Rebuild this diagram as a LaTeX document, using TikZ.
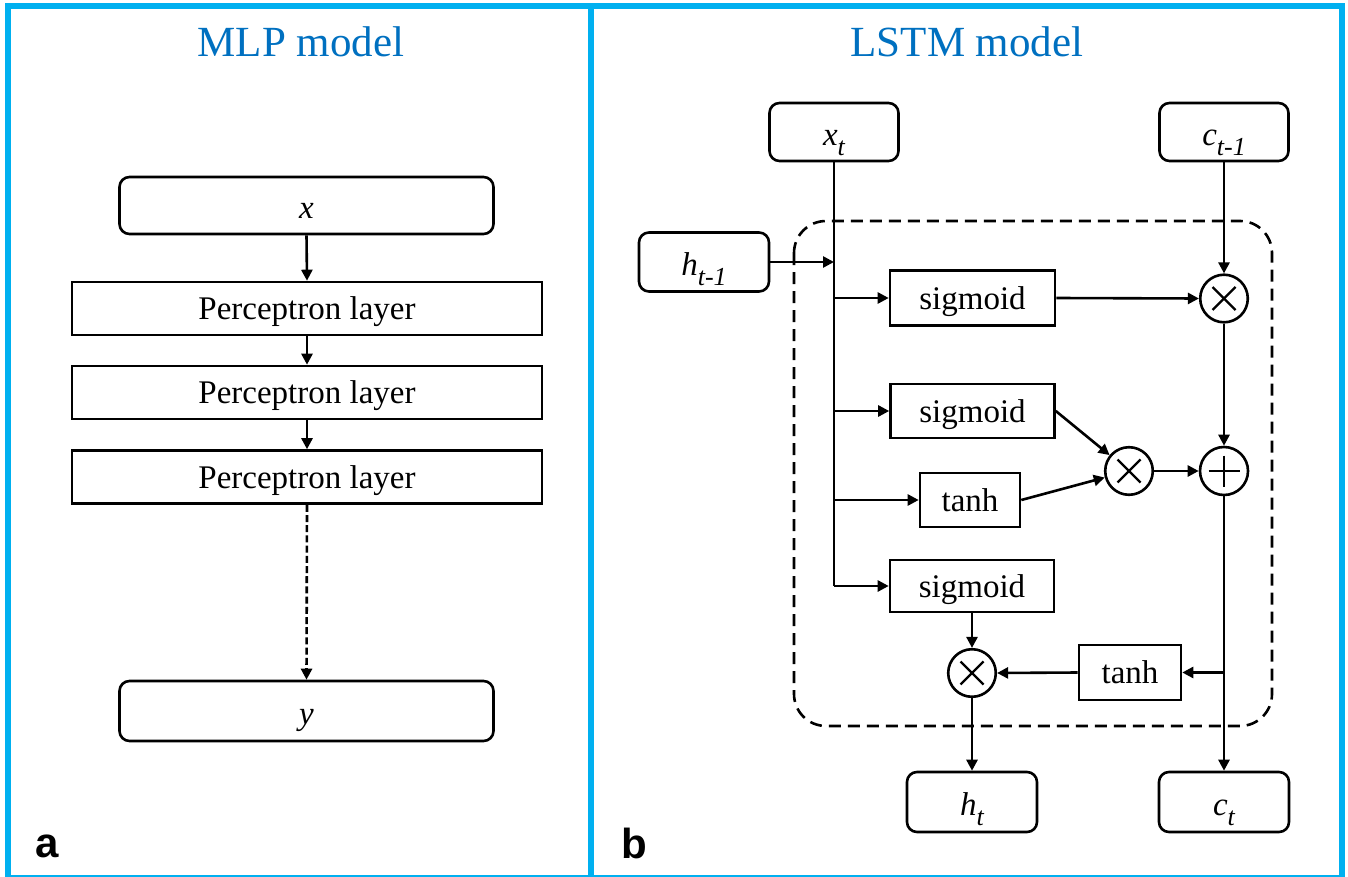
\documentclass[tikz,border=0pt]{standalone}
\usepackage{fontspec}
\setmainfont{Liberation Serif}
\setsansfont{Liberation Sans}
\usetikzlibrary{arrows.meta}
\definecolor{framecyan}{HTML}{00B0F0}
\definecolor{titleblue}{HTML}{0070C0}
% italic variable with an italic, lowered index
\newcommand\vsub[2]{\textit{#1}\raisebox{-0.3em}{\fontsize{13}{13}\selectfont\itshape #2}}

\begin{document}
\begin{tikzpicture}[x=0.5pt,y=-0.5pt,
  boxfont/.style={font=\fontsize{16.5}{18}\selectfont},
  rbox/.style={draw, line width=1.3pt, rounded corners=5pt, inner sep=0pt, boxfont,
               text height=13.5pt, text depth=0pt},
  sbox/.style={draw, line width=1.3pt, inner sep=0pt, boxfont,
               text height=11.5pt, text depth=0.5pt},
  opnode/.style={draw, circle, line width=1.3pt, minimum size=23.8pt, inner sep=0pt},
  conn/.style={line width=1.3pt, -{Triangle[length=5.5pt,width=5.5pt]}},
  plainline/.style={line width=1.3pt},
  symline/.style={line width=1.2pt},
  title/.style={anchor=base, text=titleblue, font=\fontsize{21.5}{24}\selectfont},
  panellabel/.style={anchor=base, font=\sffamily\bfseries\fontsize{21}{24}\selectfont},
  frame/.style={draw=framecyan, line width=3pt},
  groupbox/.style={line width=1.3pt, dash pattern=on 6pt off 3.5pt, rounded corners=16pt}
]
\useasboundingbox (0,0) rectangle (1348,877);

% panel frames
\draw[frame] (7.5,6.3) rectangle (1341.5,878);
\draw[frame] (591,6.3) -- (591,878);

% titles and panel letters
\node[title] (tmlp) at (301,57) {MLP model};
\node[title] (tlstm) at (967,57) {LSTM model};
\node[panellabel] (la) at (47,857) {a};
\node[panellabel] (lb) at (634,858) {b};

% ---------------- MLP ----------------
\node[rbox, minimum width=187pt, minimum height=28.5pt] (mx) at (306.5,205.5) {\textit{x}};
\node[sbox, minimum width=235pt, minimum height=26.5pt] (p1) at (307,308.5) {Perceptron layer};
\node[sbox, minimum width=235pt, minimum height=26.5pt] (p2) at (307,392.5) {Perceptron layer};
\node[sbox, minimum width=235pt, minimum height=26.5pt] (p3) at (307,477) {Perceptron layer};
\node[rbox, minimum width=187pt, minimum height=30pt] (my) at (306.5,711) {\textit{y}};

\draw[conn] (mx.south) -- (p1.north);
\draw[conn] (p1.south) -- (p2.north);
\draw[conn] (p2.south) -- (p3.north);
\draw[conn, dash pattern=on 3.5pt off 1.6pt] (p3.south) -- (my.north);

% ---------------- LSTM ----------------
% cell boundary
\draw[groupbox] (794,221) rectangle (1272,726);

\node[rbox, minimum width=64.5pt, minimum height=29pt] (xt) at (834,132) {\vsub{x}{t}};
\node[rbox, minimum width=64.5pt, minimum height=29pt] (ct1) at (1224,132) {\vsub{c}{t-1}};
\node[rbox, minimum width=65pt, minimum height=29.5pt] (ht1) at (704,262) {\vsub{h}{t-1}};
\node[rbox, minimum width=65pt, minimum height=30pt] (ht) at (972,802) {\vsub{h}{t}};
\node[rbox, minimum width=65pt, minimum height=30pt] (ct) at (1224,802) {\vsub{c}{t}};

\node[sbox, minimum width=82.5pt, minimum height=27.5pt] (s1) at (972.5,298) {sigmoid};
\node[sbox, minimum width=82pt, minimum height=27pt] (s2) at (972.5,411) {sigmoid};
\node[sbox, minimum width=50pt, minimum height=27pt] (t1) at (970,500) {tanh};
\node[sbox, minimum width=82pt, minimum height=26pt] (s3) at (972,586) {sigmoid};
\node[sbox, minimum width=51pt, minimum height=27.5pt] (t2) at (1130,672.5) {tanh};

\node[opnode] (c1) at (1224,298.5) {};
\node[opnode] (c2) at (1129,471) {};
\node[opnode, minimum size=24pt] (pl) at (1224,471) {};
\node[opnode] (c3) at (972,673) {};

% operator symbols
\foreach \n in {c1,c2,c3}{
  \draw[symline] ([shift={(-11.5,-11.5)}]\n.center) -- ([shift={(11.5,11.5)}]\n.center);
  \draw[symline] ([shift={(-11.5,11.5)}]\n.center) -- ([shift={(11.5,-11.5)}]\n.center);
}
\draw[symline] ([shift={(-15.5,0)}]pl.center) -- ([shift={(15.5,0)}]pl.center);
\draw[symline] ([shift={(0,-15.5)}]pl.center) -- ([shift={(0,15.5)}]pl.center);

% input trunk
\coordinate (jh) at (834,262);
\coordinate (j1) at (834,298);
\coordinate (j2) at (834,411);
\coordinate (j3) at (834,500);
\coordinate (j4) at (834,586);
\draw[plainline] (xt.south) -- (j4);
\draw[conn] (ht1.east) -- (jh);
\draw[conn] (j1) -- (s1.west);
\draw[conn] (j2) -- (s2.west);
\draw[conn] (j3) -- (t1.west);
\draw[conn] (j4) -- (s3.west);

% gates
\draw[conn] (s1.east) -- (c1.west);
\draw[conn] (ct1.south) -- (c1.north);
\draw[conn] (s2.east) -- (c2);
\draw[conn] (t1.east) -- (c2);
\draw[conn] (c2.east) -- (pl.west);
\draw[conn] (c1.south) -- (pl.north);

% cell state out and output gate
\coordinate (jc) at (1224,672.5);
\draw[conn] (pl.south) -- (ct.north);
\draw[conn] (jc) -- (t2.east);
\draw[conn] (t2.west) -- (c3.east);
\draw[conn] (s3.south) -- (c3.north);
\draw[conn] (c3.south) -- (ht.north);
\end{tikzpicture}
\end{document}
